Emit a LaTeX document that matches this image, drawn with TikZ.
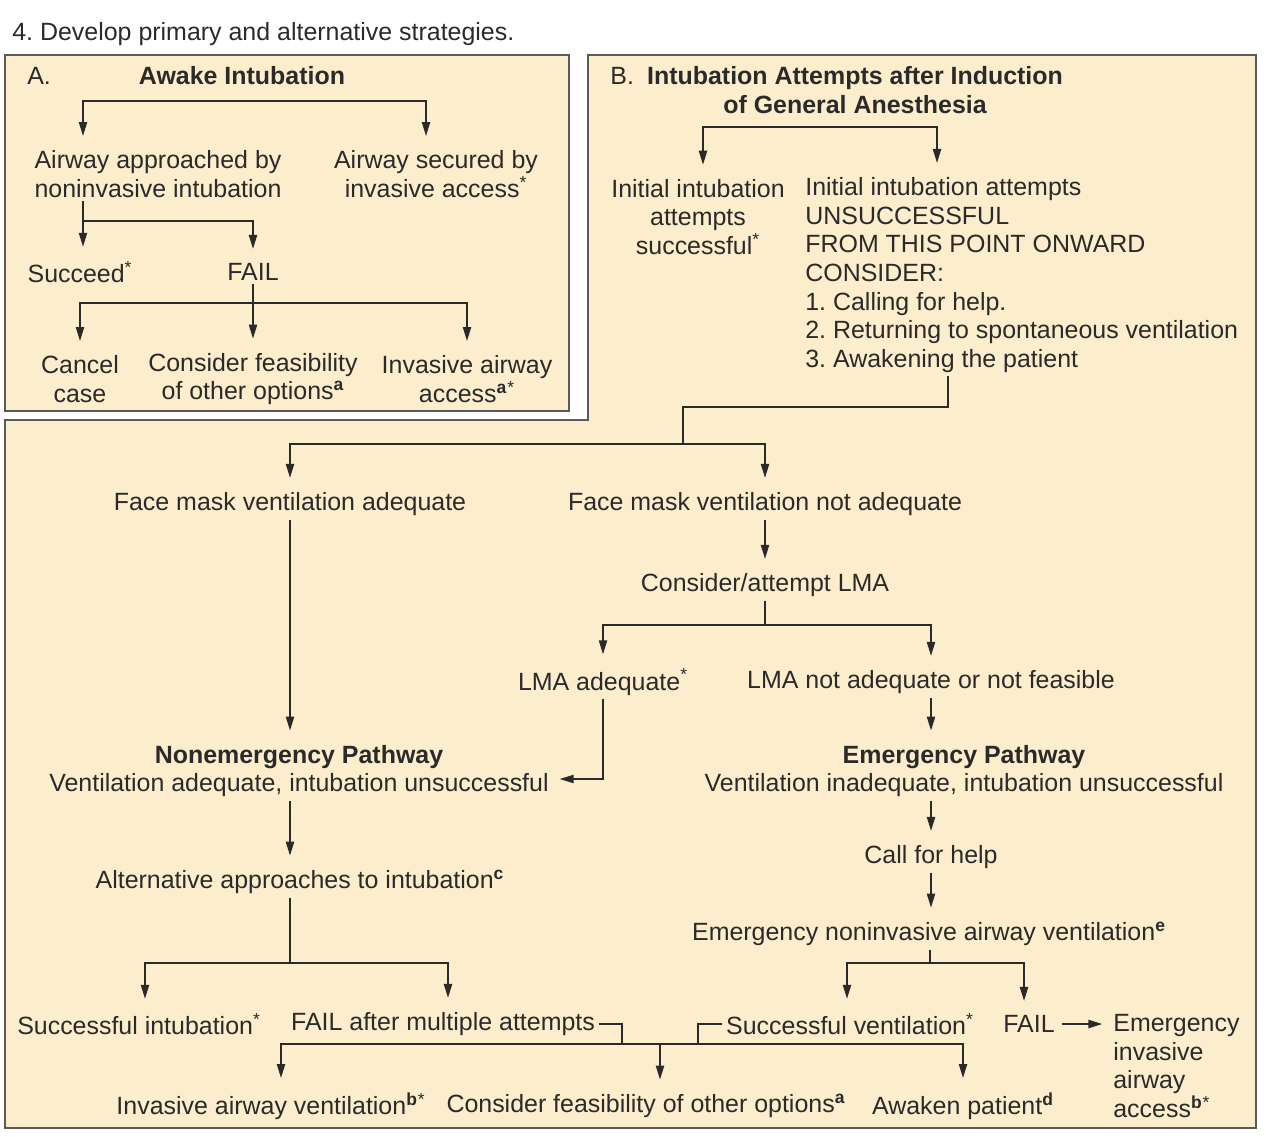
\documentclass[tikz,border=0pt]{standalone}
\usepackage{fontspec}
\setmainfont{Liberation Sans}
\usetikzlibrary{arrows.meta,calc}
\definecolor{tanfill}{HTML}{FCEDCC}
\definecolor{bord}{HTML}{5A5A5A}
\definecolor{ink}{HTML}{2A2A2A}
\newcommand{\fsz}{\fontsize{14.2pt}{16.3pt}\selectfont}
\newcommand{\sps}[1]{\textsuperscript{\textbf{#1}}}
\newcommand{\stt}{\textsuperscript{*}}
\frenchspacing
\begin{document}
\begin{tikzpicture}[x=0.02cm,y=-0.02cm,
  txt/.style={font=\fsz, text=ink, inner xsep=0pt, inner ysep=2pt, align=center},
  ltxt/.style={txt, align=left},
  ln/.style={draw=ink, line width=1.1pt},
  arr/.style={ln, -{Triangle[length=8pt,width=4.6pt]}, shorten >=6pt},
  boxst/.style={fill=tanfill, draw=bord, line width=1.4pt}]
\useasboundingbox (0,0) rectangle (1266,1136);
% boxes
\draw[boxst] (5,55) rectangle (569,411);
\draw[boxst] (588,55) -- (1256,55) -- (1256,1128) -- (5,1128) -- (5,420) -- (588,420) -- cycle;
% title
\node[txt, anchor=west] (title) at (12,34) {4. Develop primary and alternative strategies.};
% ---------- A ----------
\node[txt, anchor=west] (aA) at (27,76) {A.};
\node[txt, font=\fsz\bfseries] (aT) at (242,76) {Awake Intubation};
\node[txt] (aNon) at (158,174) {Airway approached by\\noninvasive intubation};
\node[txt] (aInv) at (436,174) {Airway secured by\\invasive access\stt};
\node[txt] (aSuc) at (80,272) {Succeed\stt};
\node[txt] (aFail) at (253,272) {FAIL};
\node[txt] (aCan) at (80,379) {Cancel\\case};
\node[txt] (aCon) at (253,379) {Consider feasibility\\of other options\sps{a}};
\node[txt] (aIAA) at (467,379) {Invasive airway\\access\sps{a}\stt};
\coordinate (aJ1) at (254,101);
\coordinate (aJ2) at (83,221);
\coordinate (aJ3) at (253,303);
\draw[arr] (aJ1) -| (83,0 |- aNon.north);
\draw[arr] (aJ1) -| (426,0 |- aInv.north);
\draw[ln] (83,0 |- aNon.south) -- (aJ2);
\draw[arr] (aJ2) -- (aJ2 |- aSuc.north);
\draw[arr] (aJ2) -| (aFail.north);
\draw[arr] (aFail.south) -- (aCon.north);
\draw[arr] (aJ3) -| (aCan.north);
\draw[arr] (aJ3) -| (aIAA.north);
% ---------- B top ----------
\node[txt, anchor=west] (bB) at (610,76) {B.};
\node[txt, font=\fsz\bfseries] (bT) at (855,90) {Intubation Attempts after Induction\\of General Anesthesia};
\node[txt] (bSuc) at (698,217) {Initial intubation\\attempts\\successful\stt};
\node[ltxt, anchor=west] (bUns) at (805,275) {Initial intubation attempts\\UNSUCCESSFUL\\FROM THIS POINT ONWARD\\CONSIDER:\\1. Calling for help.\\2. Returning to spontaneous ventilation\\3. Awakening the patient};
\coordinate (bJ0) at (820,127);
\draw[arr] (bJ0) -| (703,0 |- bSuc.north);
\draw[arr] (bJ0) -| (937,0 |- bUns.north);
% ---------- B lower ----------
\node[txt] (fma) at (290,504) {Face mask ventilation adequate};
\node[txt] (fmn) at (765,504) {Face mask ventilation not adequate};
\node[txt] (lma) at (765,585) {Consider/attempt LMA};
\node[txt] (lmaA) at (603,682) {LMA adequate\stt};
\node[txt] (lmaN) at (931,682) {LMA not adequate or not feasible};
\node[txt] (nep) at (299,771) {\textbf{Nonemergency Pathway}\\Ventilation adequate, intubation unsuccessful};
\node[txt] (ep) at (964,771) {\textbf{Emergency Pathway}\\Ventilation inadequate, intubation unsuccessful};
\node[txt] (alt) at (300,882) {Alternative approaches to intubation\sps{c}};
\node[txt] (call) at (931,857) {Call for help};
\node[txt] (eniv) at (929,934) {Emergency noninvasive airway ventilation\sps{e}};
\node[txt] (sint) at (139,1024) {Successful intubation\stt};
\node[txt] (fmul) at (443,1024) {FAIL after multiple attempts};
\node[txt] (sven) at (850,1024) {Successful ventilation\stt};
\node[txt] (efail) at (1029,1024) {FAIL};
\node[ltxt, anchor=west] (eia) at (1113,1066) {Emergency\\invasive\\airway\\access\sps{b}\stt};
\node[txt] (iav) at (271,1106) {Invasive airway ventilation\sps{b}\stt};
\node[txt] (cfo) at (646,1106) {Consider feasibility of other options\sps{a}};
\node[txt] (awk) at (963,1106) {Awaken patient\sps{d}};
% connectors
\coordinate (bJ1) at (683,407);
\coordinate (bJ2) at (683,444);
\draw[ln] (948,0 |- bUns.south) |- (bJ1) -- (bJ2);
\draw[arr] (bJ2) -| (fma.north);
\draw[arr] (bJ2) -| (fmn.north);
\draw[arr] (fma.south) -- (fma.south |- nep.north);
\draw[arr] (fmn.south) -- (lma.north);
\coordinate (lJ) at (765,625);
\draw[ln] (lma.south) -- (lJ);
\draw[arr] (lJ) -| (lmaA.north);
\draw[arr] (lJ) -| (lmaN.north);
\draw[arr] (lmaA.south) |- ($(nep.east)+(0,8)$);
\draw[arr] (lmaN.south) -- (lmaN.south |- ep.north);
\draw[arr] (fma.south |- nep.south) -- (fma.south |- alt.north);
\draw[arr] (call.north |- ep.south) -- (call.north);
\draw[arr] (call.south) -- (call.south |- eniv.north);
\coordinate (altJ) at (290,963);
\draw[ln] (altJ |- alt.south) -- (altJ);
\draw[arr] (altJ) -| (145,0 |- sint.north);
\draw[arr] (altJ) -| (448,0 |- fmul.north);
\coordinate (eJ) at (930,963);
\draw[ln] (eJ |- eniv.south) -- (eJ);
\draw[arr] (eJ) -| (847,0 |- sven.north);
\draw[arr] (eJ) -| (1024,0 |- efail.north);
\draw[arr, shorten <=4pt] (efail.east) -- (eia.west |- efail.east);
\coordinate (bL) at (622,1044);
\coordinate (bR) at (698,1044);
\coordinate (bM) at (660,1044);
\draw[ln, shorten <=2pt] (fmul.east) -| (bL);
\draw[ln, shorten <=2pt] (sven.west) -| (bR);
\draw[arr] (bL) -| (281,0 |- iav.north);
\draw[arr] (bR) -| (963,0 |- awk.north);
\draw[ln] (bL) -- (bR);
\draw[arr] (bM) -- (bM |- cfo.north);
\end{tikzpicture}
\end{document}
